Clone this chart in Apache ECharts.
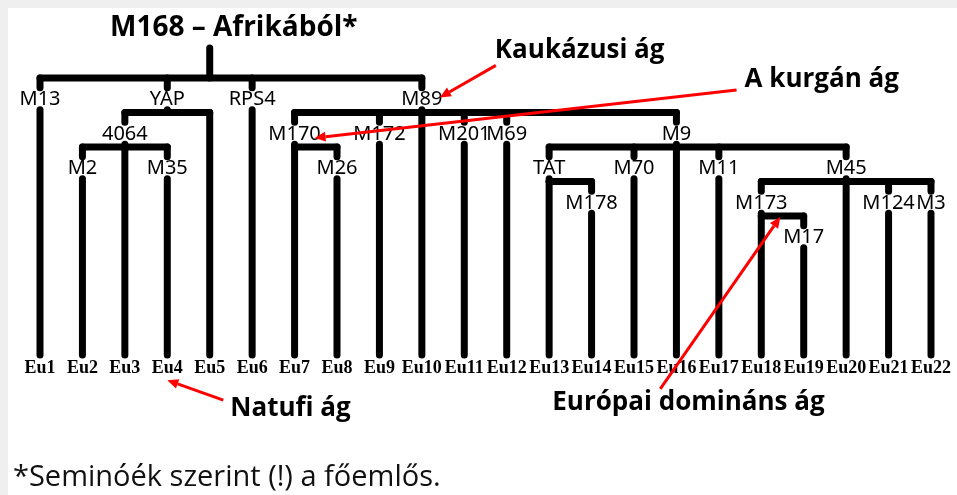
<!DOCTYPE html>
<html>
<head>
<meta charset="utf-8">
<script src="https://cdn.jsdelivr.net/npm/echarts@6/dist/echarts.min.js"></script>
<style>
  html, body { margin: 0; padding: 0; background: #efefef; }
  #frame { position: absolute; left: 8px; top: 8px; width: 949px; height: 487px; background: #fff; }
  #chart { position: absolute; left: 0; top: 0; width: 957px; height: 495px; }
</style>
</head>
<body>
<div id="frame"></div>
<div id="chart"></div>
<script>
// leaves along the bottom
const leaves = ['Eu1', 'Eu2', 'Eu3', 'Eu4', 'Eu5', 'Eu6', 'Eu7', 'Eu8', 'Eu9', 'Eu10', 'Eu11',
  'Eu12', 'Eu13', 'Eu14', 'Eu15', 'Eu16', 'Eu17', 'Eu18', 'Eu19', 'Eu20', 'Eu21', 'Eu22']
// the marker each leaf hangs from
const leafParents = ['M13', 'M2', '4064', 'M35', 'YAP', 'RPS4', 'M170', 'M26', 'M172', 'M89', 'M201',
  'M69', 'TAT', 'M178', 'M70', 'M9', 'M11', 'M173', 'M17', 'M45', 'M124', 'M3']

// markers (tree nodes)
const nodeNames = ['M168', 'M13', 'YAP', 'RPS4', 'M89', '4064', 'M2', 'M35', 'M170', 'M26', 'M172',
  'M201', 'M69', 'M9', 'TAT', 'M178', 'M70', 'M11', 'M45', 'M173', 'M17', 'M124', 'M3']
const nodeParents = [null, 'M168', 'M168', 'M168', 'M168', 'YAP', '4064', '4064', 'M89', 'M170', 'M89',
  'M89', 'M89', 'M89', 'M9', 'TAT', 'M9', 'M9', 'M9', 'M45', 'M173', 'M45', 'M45']
// column (leaf number) the node stands on
const nodeColumn = [5, 1, 4, 6, 10, 3, 2, 4, 7, 8, 9, 11, 12, 16, 13, 14, 15, 17, 20, 18, 19, 21, 22]
// branching depth
const nodeLevel = [0, 1, 1, 1, 1, 2, 3, 3, 2, 3, 2, 2, 2, 2, 3, 4, 3, 3, 3, 4, 5, 4, 4]

// notes with arrows
const noteTexts = ['Kaukázusi ág', 'A kurgán ág', 'Natufi ág', 'Európai domináns ág']
const noteTargets = ['M89', 'M170', 'Eu4', 'M173']

const title = 'M168 – Afrikából*'
const footnote = '*Seminóék szerint (!) a főemlős.'

// vertical layout in level units
const ROOT_TOP = -0.87
const LEAF_BOTTOM = 8.03
const LEAF_LABEL = 8.41
const LABEL_POS = 0.38
const STUB = 0.28
const RESUME = 0.08

const isTerminal = nodeNames.map(n => !nodeParents.includes(n))

const barRange = nodeNames.map((n, i) => {
  const cols = []
  nodeParents.forEach((p, j) => { if (p === n) cols.push(nodeColumn[j]) })
  if (!isTerminal[i]) leafParents.forEach((p, j) => { if (p === n) cols.push(j + 1) })
  return cols.length ? [Math.min(...cols), Math.max(...cols)] : [nodeColumn[i], nodeColumn[i]]
})

const nodeData = nodeNames.map((n, i) => ({
  name: n,
  value: [nodeColumn[i], nodeLevel[i], barRange[i][0], barRange[i][1], isTerminal[i] ? 1 : 0]
}))

const leafData = leaves.map((n, i) => {
  const p = nodeNames.indexOf(leafParents[i])
  return { name: n, value: [i + 1, nodeLevel[p], isTerminal[p] ? 1 : 0] }
})

const noteData = noteTexts.map((t, i) => {
  const target = noteTargets[i]
  const k = nodeNames.indexOf(target)
  const value = k >= 0
    ? [nodeColumn[k], nodeLevel[k] - LABEL_POS]
    : [leaves.indexOf(target) + 1, LEAF_LABEL]
  return { name: t, value }
})

// pixel offsets from the target: arrow tip, arrow start, text (left, middle)
const noteLayout = [
  { tip: [18, -2], from: [74, -34], text: [73, -49] },
  { tip: [20, 4], from: [442, -44], text: [450, -54] },
  { tip: [0, 12], from: [56, 32], text: [63, 40] },
  { tip: [19, 14], from: [-101, 186], text: [-209, 200] }
]

const branchStyle = { stroke: '#000', lineWidth: 7, lineCap: 'round' }
const redStyle = { stroke: '#f00', lineWidth: 3 }
const noteFont = 'bold 26px "Open Sans"'

const seg = (a, b, style) => ({
  type: 'line',
  shape: { x1: a[0], y1: a[1], x2: b[0], y2: b[1] },
  style
})

const renderNode = (params, api) => {
  const col = api.value(0)
  const lv = api.value(1)
  const terminal = api.value(4)
  const kids = []
  if (lv === 0) {
    kids.push(seg(api.coord([col, ROOT_TOP]), api.coord([col, 0]), branchStyle))
  } else {
    const lp = api.coord([col, lv - LABEL_POS])
    kids.push(seg(api.coord([col, lv - 1]), api.coord([col, lv - 1 + STUB]), branchStyle))
    kids.push({
      type: 'text',
      x: lp[0],
      y: lp[1],
      style: {
        text: nodeNames[params.dataIndex],
        align: 'center',
        verticalAlign: 'middle',
        font: '20px "Noto Sans"',
        fill: '#000'
      }
    })
    kids.push(seg(api.coord([col, lv - RESUME]), api.coord([col, terminal ? LEAF_BOTTOM : lv]), branchStyle))
  }
  if (!terminal) {
    kids.push(seg(api.coord([api.value(2), lv]), api.coord([api.value(3), lv]), branchStyle))
  }
  return { type: 'group', children: kids }
}

const renderLeaf = (params, api) => {
  const col = api.value(0)
  const kids = []
  if (!api.value(2)) {
    kids.push(seg(api.coord([col, api.value(1)]), api.coord([col, LEAF_BOTTOM]), branchStyle))
  }
  const lp = api.coord([col, LEAF_LABEL])
  kids.push({
    type: 'text',
    x: lp[0],
    y: lp[1],
    style: {
      text: leaves[params.dataIndex],
      align: 'center',
      verticalAlign: 'middle',
      font: 'bold 18px "Liberation Serif"',
      fill: '#000'
    }
  })
  return { type: 'group', children: kids }
}

const renderNote = (params, api) => {
  const a = api.coord([api.value(0), api.value(1)])
  const lay = noteLayout[params.dataIndex]
  const tip = [a[0] + lay.tip[0], a[1] + lay.tip[1]]
  const from = [a[0] + lay.from[0], a[1] + lay.from[1]]
  const dx = tip[0] - from[0]
  const dy = tip[1] - from[1]
  const len = Math.sqrt(dx * dx + dy * dy)
  const ux = dx / len
  const uy = dy / len
  const hl = 11
  const hw = 5
  const base = [tip[0] - ux * hl, tip[1] - uy * hl]
  return {
    type: 'group',
    children: [
      seg(from, base, redStyle),
      {
        type: 'polygon',
        shape: {
          points: [tip, [base[0] - uy * hw, base[1] + ux * hw], [base[0] + uy * hw, base[1] - ux * hw]]
        },
        style: { fill: '#f00' }
      },
      {
        type: 'text',
        x: a[0] + lay.text[0],
        y: a[1] + lay.text[1],
        style: {
          text: noteTexts[params.dataIndex],
          align: 'left',
          verticalAlign: 'middle',
          font: noteFont,
          fill: '#000'
        }
      }
    ]
  }
}

const chart = echarts.init(document.getElementById('chart'))

const option = {
  animation: false,
  grid: { left: 40, right: 26, top: 43.5, height: 345 },
  xAxis: { type: 'value', min: 1, max: 22, show: false },
  yAxis: { type: 'value', min: -1, max: 9, inverse: true, show: false },
  graphic: [
    {
      type: 'text',
      x: 110,
      y: 28,
      style: { text: title, verticalAlign: 'middle', font: 'bold 28px "Open Sans"', fill: '#000' }
    },
    {
      type: 'text',
      x: 13,
      y: 478,
      style: { text: footnote, verticalAlign: 'middle', font: '29px "Open Sans"', fill: '#111' }
    }
  ],
  series: [
    { type: 'custom', name: 'nodes', renderItem: renderNode, data: nodeData },
    { type: 'custom', name: 'leaves', renderItem: renderLeaf, data: leafData },
    { type: 'custom', name: 'notes', renderItem: renderNote, data: noteData, z: 5 }
  ]
}

chart.setOption(option)
</script>
</body>
</html>
